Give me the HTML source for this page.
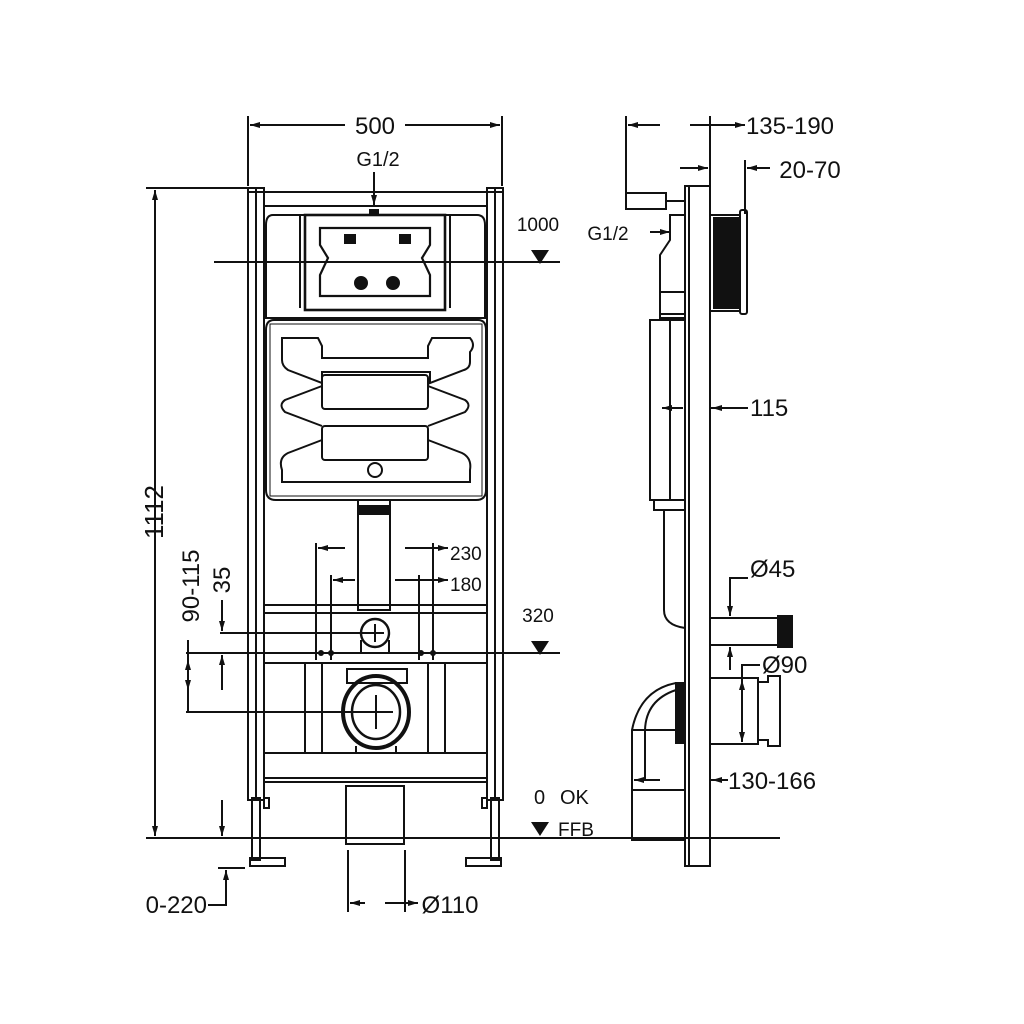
<!DOCTYPE html>
<html><head><style>html,body{margin:0;padding:0;background:#fff}svg{display:block}text{font-family:"Liberation Sans",sans-serif;fill:#111}</style></head>
<body>
<svg width="1024" height="1024" viewBox="0 0 1024 1024" xmlns="http://www.w3.org/2000/svg">
<defs>
<marker id="a" viewBox="0 0 10 10" refX="10" refY="5" markerWidth="5" markerHeight="5" orient="auto-start-reverse"><path d="M0,2 L10,5 L0,8 z" fill="#111"/></marker>
</defs>
<g stroke="#111" stroke-width="2" fill="none">
<line x1="248" y1="116" x2="248" y2="186"/><line x1="502" y1="116" x2="502" y2="186"/>
<line x1="250" y1="125" x2="345" y2="125" marker-start="url(#a)"/><line x1="405" y1="125" x2="500" y2="125" marker-end="url(#a)"/>
<line x1="374" y1="172" x2="374" y2="205" marker-end="url(#a)"/>
<line x1="146" y1="188" x2="248" y2="188"/>
<line x1="155" y1="190" x2="155" y2="836" marker-start="url(#a)" marker-end="url(#a)"/>
<line x1="146" y1="838" x2="780" y2="838"/>
<line x1="222" y1="800" x2="222" y2="836" marker-end="url(#a)"/>
<line x1="186" y1="653" x2="560" y2="653"/>
<line x1="186" y1="712" x2="370" y2="712"/>
<line x1="220" y1="633" x2="370" y2="633"/>
<line x1="188" y1="640" x2="188" y2="712"/>
<line x1="188" y1="660" x2="188" y2="690" marker-start="url(#a)" marker-end="url(#a)"/>
<line x1="222" y1="600" x2="222" y2="631" marker-end="url(#a)"/>
<line x1="222" y1="690" x2="222" y2="655" marker-end="url(#a)"/>
<line x1="218" y1="868" x2="245" y2="868"/>
<polyline points="208,905 226,905 226,870"/>
<line x1="226" y1="890" x2="226" y2="870" marker-end="url(#a)"/>
<line x1="214" y1="262" x2="560" y2="262"/>
<rect x="248" y="188" width="16" height="612"/>
<rect x="487" y="188" width="16" height="612"/>
<line x1="256" y1="188" x2="256" y2="798"/><line x1="495" y1="188" x2="495" y2="798"/>
<line x1="248" y1="192" x2="503" y2="192"/><line x1="264" y1="206" x2="487" y2="206"/>
<rect x="252" y="798" width="8" height="62"/><rect x="491" y="798" width="8" height="62"/>
<rect x="250" y="858" width="35" height="8"/><rect x="466" y="858" width="35" height="8"/>
<rect x="264" y="798" width="5" height="10"/><rect x="482" y="798" width="5" height="10"/>
<path d="M273,215 H477 Q485,215 485,225 V318 H266 V225 Q266,215 273,215 Z"/>
<rect x="305" y="215" width="140" height="95" stroke-width="2.6"/>
<path d="M320,228 H430 V245 L422,258 L430,275 V296 H320 V275 L328,258 L320,245 Z" stroke-width="2.2"/>
<line x1="300" y1="215" x2="300" y2="308"/><line x1="450" y1="215" x2="450" y2="308"/>
<circle cx="361" cy="283" r="6" fill="#111"/><circle cx="393" cy="283" r="6" fill="#111"/>
<rect x="345" y="235" width="10" height="8" fill="#111"/><rect x="400" y="235" width="10" height="8" fill="#111"/>
<rect x="370" y="210" width="8" height="5" fill="#111"/>
<path d="M274,320 H478 Q486,320 486,330 V490 Q486,500 476,500 H276 Q266,500 266,490 V330 Q266,320 274,320 Z"/>
<path d="M270,324 H482 V496 H270 Z" stroke-width="1"/>
<path d="M282,338 H318 L322,346 V358 H428 V346 L432,338 H470 Q476,345 470,352 V362 Q470,368 464,370 L430,383 V372 H322 V383 L288,370 Q282,366 282,360 Z"/>
<rect x="322" y="375" width="106" height="34" rx="3"/>
<path d="M322,386 L285,400 Q278,405 285,412 L322,426"/><path d="M428,386 L465,400 Q472,405 465,412 L428,426"/>
<rect x="322" y="426" width="106" height="34" rx="3"/>
<path d="M322,440 L288,453 Q278,458 282,470 V482 H470 V470 Q472,458 462,453 L428,440"/>
<circle cx="375" cy="470" r="7"/>
<rect x="358" y="500" width="32" height="110"/>
<rect x="360" y="506" width="28" height="8" fill="#111"/>
<rect x="264" y="605" width="223" height="8"/>
<rect x="264" y="663" width="223" height="90"/>
<rect x="264" y="753" width="223" height="25"/>
<line x1="264" y1="782" x2="487" y2="782"/>
<line x1="305" y1="663" x2="305" y2="753"/><line x1="322" y1="663" x2="322" y2="753"/>
<line x1="428" y1="663" x2="428" y2="753"/><line x1="445" y1="663" x2="445" y2="753"/>
<circle cx="375" cy="633" r="14" stroke-width="2.4"/><path d="M361,653 V640 M389,653 V640"/>
<line x1="375" y1="624" x2="375" y2="642"/><line x1="366" y1="633" x2="384" y2="633"/>
<rect x="347" y="669" width="60" height="14" stroke-width="2"/>
<ellipse cx="376" cy="712" rx="33" ry="36" stroke-width="4"/>
<ellipse cx="376" cy="712" rx="24" ry="27" stroke-width="2.5"/>
<line x1="376" y1="695" x2="376" y2="729"/><line x1="359" y1="712" x2="393" y2="712"/>
<path d="M356,746 V753 M396,746 V753"/>
<rect x="346" y="786" width="58" height="58"/>
<line x1="316" y1="543" x2="316" y2="660"/><line x1="331" y1="575" x2="331" y2="660"/>
<line x1="419" y1="575" x2="419" y2="660"/><line x1="433" y1="543" x2="433" y2="660"/>
<line x1="318" y1="548" x2="345" y2="548" marker-start="url(#a)"/><line x1="405" y1="548" x2="448" y2="548" marker-end="url(#a)"/>
<line x1="333" y1="580" x2="355" y2="580" marker-start="url(#a)"/><line x1="395" y1="580" x2="448" y2="580" marker-end="url(#a)"/>
<line x1="348" y1="850" x2="348" y2="912"/><line x1="405" y1="850" x2="405" y2="912"/>
<line x1="350" y1="903" x2="365" y2="903" marker-start="url(#a)"/><line x1="385" y1="903" x2="418" y2="903" marker-end="url(#a)"/>
<line x1="626" y1="116" x2="626" y2="196"/><line x1="710" y1="116" x2="710" y2="186"/><line x1="745" y1="160" x2="745" y2="214"/>
<line x1="628" y1="125" x2="660" y2="125" marker-start="url(#a)"/><line x1="690" y1="125" x2="745" y2="125" marker-end="url(#a)"/>
<line x1="680" y1="168" x2="708" y2="168" marker-end="url(#a)"/><line x1="747" y1="168" x2="770" y2="168" marker-start="url(#a)"/>
<rect x="685" y="186" width="25" height="680"/>
<line x1="689" y1="186" x2="689" y2="866"/>
<rect x="626" y="193" width="40" height="16"/><line x1="666" y1="201" x2="685" y2="201"/>
<rect x="710" y="215" width="30" height="96"/><rect x="714" y="218" width="24" height="90" fill="#111"/>
<rect x="740" y="210" width="7" height="104" rx="2"/>
<path d="M685,215 H670 V240 L660,255 V318 H685"/>
<rect x="660" y="292" width="25" height="22"/>
<rect x="650" y="320" width="35" height="180"/><line x1="670" y1="320" x2="670" y2="500"/>
<path d="M654,500 V510 H685 M664,510 V610 Q664,625 685,628"/>
<line x1="662" y1="408" x2="683" y2="408" marker-start="url(#a)"/><line x1="710" y1="408" x2="748" y2="408"/><line x1="712" y1="408" x2="730" y2="408" marker-start="url(#a)"/>
<rect x="710" y="618" width="68" height="27"/><rect x="778" y="616" width="14" height="31" fill="#111"/>
<polyline points="730,610 730,578 748,578"/><line x1="730" y1="596" x2="730" y2="616" marker-end="url(#a)"/>
<line x1="730" y1="670" x2="730" y2="647" marker-end="url(#a)"/>
<rect x="710" y="678" width="48" height="66"/><path d="M758,682 H768 V676 H780 V746 H768 V740 H758"/>
<polyline points="742,728 742,665 760,665"/><line x1="742" y1="700" x2="742" y2="680" marker-end="url(#a)"/><line x1="742" y1="710" x2="742" y2="742" marker-end="url(#a)"/>
<path d="M676,683 Q640,690 632,730 V840 H685"/><path d="M676,690 Q646,700 645,730 V780"/>
<rect x="676" y="683" width="9" height="60" fill="#111"/>
<line x1="632" y1="730" x2="685" y2="730"/><line x1="632" y1="790" x2="685" y2="790"/>
<line x1="634" y1="780" x2="660" y2="780" marker-start="url(#a)"/><line x1="710" y1="780" x2="728" y2="780"/><line x1="712" y1="780" x2="726" y2="780" marker-start="url(#a)"/>
<line x1="650" y1="232" x2="662" y2="232"/><line x1="662" y1="232" x2="670" y2="232" marker-end="url(#a)"/>
</g>
<g fill="#111">
<path d="M531,250 L549,250 L540,264 Z"/><path d="M531,641 L549,641 L540,655 Z"/><path d="M531,822 L549,822 L540,836 Z"/>
<circle cx="321" cy="653" r="3"/><circle cx="331" cy="653" r="3"/><circle cx="421" cy="653" r="3"/><circle cx="433" cy="653" r="3"/>
</g>
<g font-size="24">
<text x="375" y="134" text-anchor="middle">500</text>
<text x="378" y="166" text-anchor="middle" font-size="20">G1/2</text>
<text x="538" y="231" text-anchor="middle" font-size="19">1000</text>
<text x="538" y="622" text-anchor="middle" font-size="19">320</text>
<text x="450" y="560" font-size="19">230</text>
<text x="450" y="591" font-size="19">180</text>
<text x="534" y="804" font-size="20">0</text><text x="560" y="804" font-size="20">OK</text>
<text x="558" y="836" font-size="19">FFB</text>
<text x="207" y="913" text-anchor="end">0-220</text>
<text x="450" y="913" text-anchor="middle">Ø110</text>
<text transform="translate(163,512) rotate(-90)" text-anchor="middle" font-size="26">1112</text>
<text transform="translate(199,586) rotate(-90)" text-anchor="middle">90-115</text>
<text transform="translate(230,580) rotate(-90)" text-anchor="middle">35</text>
<text x="790" y="134" text-anchor="middle">135-190</text>
<text x="810" y="178" text-anchor="middle">20-70</text>
<text x="608" y="240" text-anchor="middle" font-size="19">G1/2</text>
<text x="750" y="416">115</text>
<text x="750" y="577">Ø45</text>
<text x="762" y="673">Ø90</text>
<text x="728" y="789">130-166</text>
</g>
</svg>
</body></html>
